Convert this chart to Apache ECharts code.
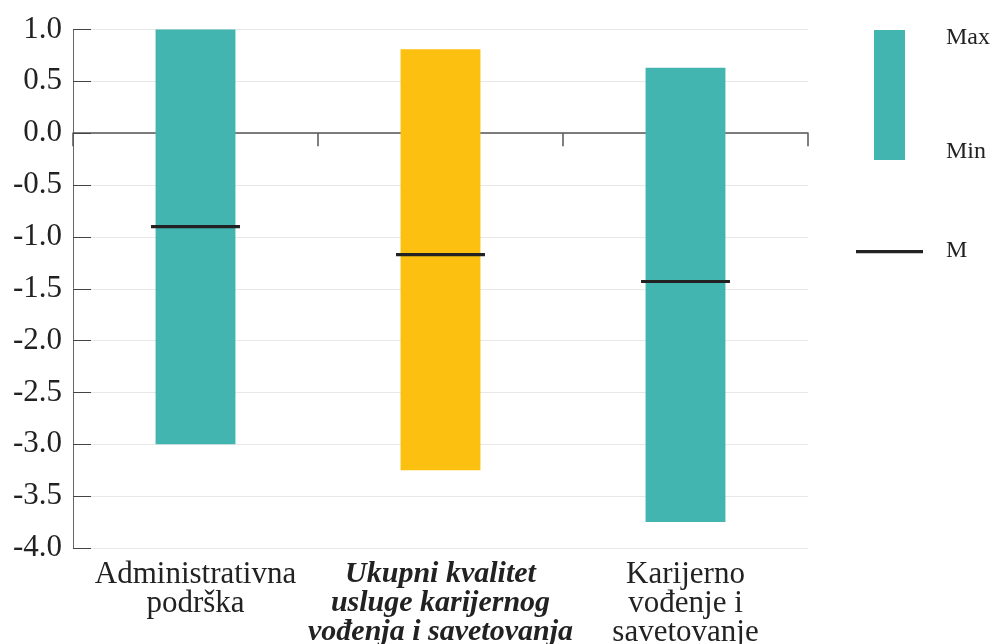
<!DOCTYPE html>
<html>
<head>
<meta charset="utf-8">
<script src="https://cdn.jsdelivr.net/npm/echarts@6/dist/echarts.min.js"></script>
<style>
  html, body { margin: 0; padding: 0; background: #fff; }
  #chart { width: 995px; height: 644px; }
</style>
</head>
<body>
<div id="chart"></div>
<script>
const categories = ['Administrativna\npodrška', 'Ukupni kvalitet\nusluge karijernog\nvođenja i savetovanja', 'Karijerno\nvođenje i\nsavetovanje'];
const highlighted = [false, true, false];
const maxValues = [1.0, 0.81, 0.63];
const minValues = [-3.0, -3.25, -3.75];
const meanValues = [-0.9, -1.17, -1.43];
const barColors = ['#43b5b1', '#fcc010', '#43b5b1'];
const legendLabels = ['Max', 'Min', 'M'];

const FONT = '"Liberation Serif", "Times New Roman", serif';
const chart = echarts.init(document.getElementById('chart'));

const data = categories.map((c, i) => [i, minValues[i], maxValues[i], meanValues[i]]);

chart.setOption({
  animation: false,
  backgroundColor: '#fff',
  grid: { left: 73, right: 187, top: 29.5, bottom: 96, containLabel: false, outerBoundsMode: 'none' },
  xAxis: [
    {
      type: 'category',
      data: categories,
      position: 'bottom',
      axisLine: { show: false, onZero: false },
      axisTick: { show: false },
      splitLine: { show: false },
      axisLabel: {
        margin: 12,
        interval: 0,
        color: '#222',
        fontFamily: FONT,
        fontSize: 31,
        lineHeight: 29,
        formatter: function (v, i) {
          if (highlighted[i]) {
            return v.split('\n').map(s => '{b|' + s + '}').join('\n');
          }
          return v.split('\n').map(s => '{n|' + s + '}').join('\n');
        },
        rich: {
          b: { fontFamily: FONT, fontSize: 30, lineHeight: 29, fontWeight: 'bold', fontStyle: 'italic', color: '#222' },
          n: { fontFamily: FONT, fontSize: 31, lineHeight: 29, color: '#222' }
        }
      }
    },
    {
      type: 'category',
      data: categories,
      position: 'bottom',
      axisLine: { show: true, onZero: true, lineStyle: { color: '#555', width: 1.5 } },
      axisTick: { show: true, length: 13, lineStyle: { color: '#555', width: 1.5 } },
      axisLabel: { show: false },
      splitLine: { show: false }
    }
  ],
  yAxis: {
    type: 'value',
    min: -4,
    max: 1,
    interval: 0.5,
    axisLine: { show: true, lineStyle: { color: '#666', width: 1 } },
    axisTick: { show: true, inside: true, length: 18, lineStyle: { color: '#444', width: 1 } },
    splitLine: { show: true, lineStyle: { color: '#e8e8e8', width: 1 } },
    axisLabel: {
      margin: 11,
      color: '#222',
      fontFamily: FONT,
      fontSize: 31,
      formatter: v => v.toFixed(1)
    }
  },
  series: [{
    type: 'custom',
    xAxisIndex: 0,
    data: data,
    encode: { x: 0, y: [1, 2, 3] },
    z: 1,
    renderItem: function (params, api) {
      const idx = api.value(0);
      const lo = api.coord([idx, api.value(1)]);
      const hi = api.coord([idx, api.value(2)]);
      const mean = api.coord([idx, api.value(3)]);
      const band = api.size([1, 0])[0];
      const bw = band * 0.326;
      const mw = band * 0.363;
      return {
        type: 'group',
        children: [
          { type: 'rect', shape: { x: lo[0] - bw / 2, y: hi[1], width: bw, height: lo[1] - hi[1] },
            style: { fill: barColors[params.dataIndex] } },
          { type: 'rect', shape: { x: mean[0] - mw / 2, y: mean[1] - 1.6, width: mw, height: 3.2 },
            style: { fill: '#222' } }
        ]
      };
    }
  }],
  graphic: [
    { type: 'rect', shape: { x: 874, y: 30, width: 31, height: 130 }, style: { fill: '#43b5b1' } },
    { type: 'text', x: 946, y: 38, style: { text: legendLabels[0], fontFamily: FONT, fontSize: 24, fill: '#222', verticalAlign: 'middle' } },
    { type: 'text', x: 946, y: 152, style: { text: legendLabels[1], fontFamily: FONT, fontSize: 24, fill: '#222', verticalAlign: 'middle' } },
    { type: 'rect', shape: { x: 856, y: 250, width: 67, height: 3.2 }, style: { fill: '#222' } },
    { type: 'text', x: 946, y: 251, style: { text: legendLabels[2], fontFamily: FONT, fontSize: 24, fill: '#222', verticalAlign: 'middle' } }
  ]
});
</script>
</body>
</html>
